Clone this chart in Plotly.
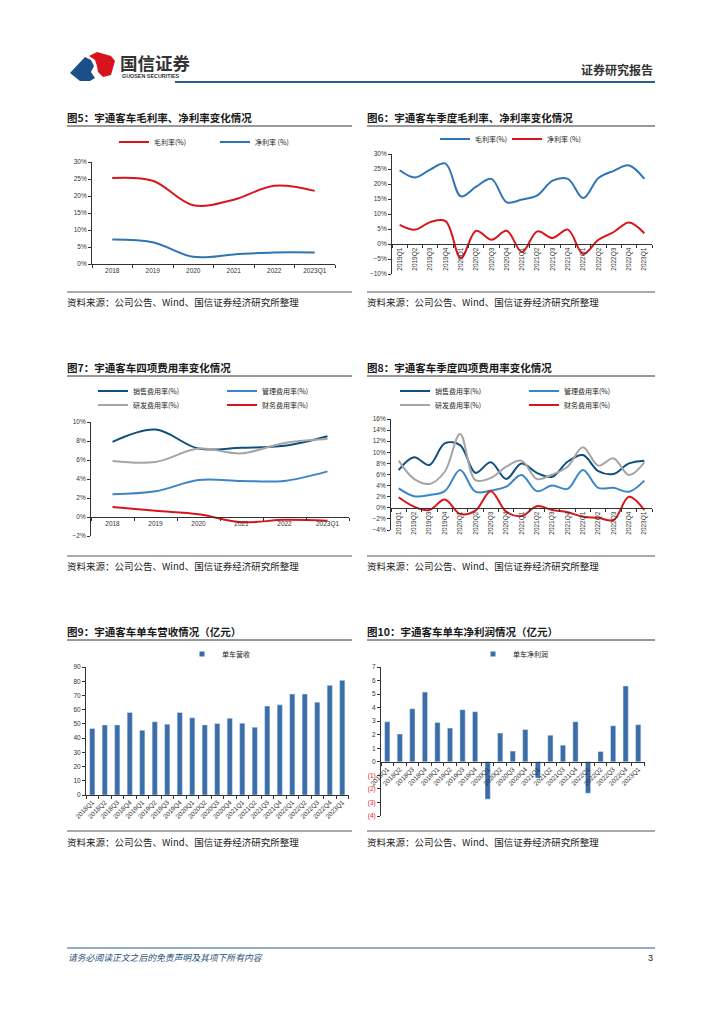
import plotly.graph_objects as go

# page is 724x1024; the browser adds an 8px body margin, so the figure is drawn 8px smaller
OFF = 8
W, H = 724 - OFF, 1024 - OFF


def fx(p):
    return (p - OFF) / W


def fy(p):
    return 1 - (p - OFF) / H


CJK = "Noto Sans CJK SC"
NUM = "Liberation Sans"

# ---------------- data ----------------
years = ["2018", "2019", "2020", "2021", "2022", "2023Q1"]
gross_margin_annual = [25.3, 24.5, 17.3, 18.9, 23.0, 21.5]
net_margin_annual = [7.2, 6.4, 2.1, 2.8, 3.4, 3.4]

quarters_17 = ["2019Q1", "2019Q2", "2019Q3", "2019Q4", "2020Q1", "2020Q2", "2020Q3", "2020Q4",
               "2021Q1", "2021Q2", "2021Q3", "2021Q4", "2022Q1", "2022Q2", "2022Q3", "2022Q4", "2023Q1"]
gross_margin_q = [24.6, 22.2, 24.8, 26.8, 15.9, 19.1, 21.7, 13.9, 14.8, 16.2, 21.1, 21.7, 15.3, 22.0, 24.4, 26.2, 21.7]
net_margin_q = [6.4, 4.8, 7.3, 7.6, -4.7, 4.4, 1.4, 4.4, -2.7, 4.2, 2.0, 4.8, -3.3, 1.4, 4.0, 7.2, 3.6]

sales_exp_annual = [7.9, 9.2, 7.2, 7.3, 7.5, 8.5]
mgmt_exp_annual = [2.4, 2.7, 3.9, 3.8, 3.8, 4.8]
rd_exp_annual = [5.9, 5.8, 7.2, 6.7, 7.8, 8.2]
fin_exp_annual = [1.05, 0.65, 0.3, -0.55, -0.3, -0.4]

sales_exp_q = [6.8, 9.1, 7.7, 11.6, 11.3, 6.3, 8.2, 5.2, 8.0, 6.3, 5.6, 8.3, 9.5, 6.6, 6.1, 8.0, 8.5]
mgmt_exp_q = [3.5, 2.1, 2.3, 3.0, 6.8, 2.9, 3.1, 3.8, 5.9, 3.0, 4.0, 3.4, 6.8, 3.6, 3.6, 2.9, 4.9]
rd_exp_q = [8.5, 5.2, 4.3, 6.5, 13.3, 5.0, 5.4, 7.4, 8.5, 5.2, 6.0, 7.4, 10.9, 7.6, 8.9, 5.9, 8.2]
fin_exp_q = [1.9, 0.2, -0.4, 1.5, -1.1, -0.5, 3.0, -0.7, -1.5, 0.3, -0.4, -0.8, -1.6, -1.8, -2.2, 2.0, -0.4]

quarters_21 = ["2018Q1", "2018Q2", "2018Q3", "2018Q4", "2019Q1", "2019Q2", "2019Q3", "2019Q4",
               "2020Q1", "2020Q2", "2020Q3", "2020Q4", "2021Q1", "2021Q2", "2021Q3", "2021Q4",
               "2022Q1", "2022Q2", "2022Q3", "2022Q4", "2023Q1"]
revenue_per_bus = [46.8, 49.3, 49.3, 58.0, 45.6, 51.5, 49.8, 58.0, 54.3, 49.3, 50.3, 54.0, 50.5, 47.7,
                   62.5, 63.4, 71.0, 71.0, 65.3, 77.1, 80.6]
profit_per_bus = [2.96, 2.05, 3.92, 5.15, 2.91, 2.49, 3.85, 3.70, -2.76, 2.12, 0.79, 2.39, -1.2, 1.97,
                  1.23, 2.96, -2.32, 0.76, 2.66, 5.6, 2.74]
profit_ticks = [7, 6, 5, 4, 3, 2, 1, 0, -1, -2, -3, -4]

# ---------------- style ----------------
RED = "#D9151B"
BLUE = "#2E75B6"
NAVY = "#0E4F7E"
MID = "#3D85C6"
GREY = "#A5A5A5"
BAR = "#3B6EA8"
AX = "#333333"

fig = go.Figure()


def line(x, y, name, color, ax, lg):
    fig.add_trace(go.Scatter(x=x, y=y, name=name, mode="lines",
                             line=dict(color=color, width=2, shape="spline", smoothing=1.0),
                             xaxis="x" + ax, yaxis="y" + ax, legend=lg))


# chart 5
line(years, gross_margin_annual, "毛利率(%)", RED, "", "legend")
line(years, net_margin_annual, "净利率 (%)", BLUE, "", "legend2")
# chart 6
line(quarters_17, gross_margin_q, "毛利率(%)", BLUE, "2", "legend3")
line(quarters_17, net_margin_q, "净利率 (%)", RED, "2", "legend4")
# chart 7
line(years, sales_exp_annual, "销售费用率(%)", NAVY, "3", "legend5")
line(years, mgmt_exp_annual, "管理费用率(%)", MID, "3", "legend6")
line(years, rd_exp_annual, "研发费用率(%)", GREY, "3", "legend7")
line(years, fin_exp_annual, "财务费用率(%)", RED, "3", "legend8")
# chart 8
line(quarters_17, sales_exp_q, "销售费用率(%)", NAVY, "4", "legend9")
line(quarters_17, mgmt_exp_q, "管理费用率(%)", MID, "4", "legend10")
line(quarters_17, rd_exp_q, "研发费用率(%)", GREY, "4", "legend11")
line(quarters_17, fin_exp_q, "财务费用率(%)", RED, "4", "legend12")
# chart 9
fig.add_trace(go.Bar(x=quarters_21, y=revenue_per_bus, name="单车营收", marker=dict(color=BAR),
                     xaxis="x5", yaxis="y5", showlegend=False))
fig.add_trace(go.Scatter(x=[None], y=[None], name="单车营收", mode="markers",
                         marker=dict(symbol="square", size=5, color=BAR),
                         xaxis="x5", yaxis="y5", legend="legend13"))
# chart 10
fig.add_trace(go.Bar(x=quarters_21, y=profit_per_bus, name="单车净利润", marker=dict(color=BAR),
                     xaxis="x6", yaxis="y6", showlegend=False))
fig.add_trace(go.Scatter(x=[None], y=[None], name="单车净利润", mode="markers",
                         marker=dict(symbol="square", size=5, color=BAR),
                         xaxis="x6", yaxis="y6", legend="legend14"))

tickfont = dict(size=6.5, family=NUM, color=AX)


def xax(x0, x1, n, anchor, pos=None, angle=0):
    d = dict(domain=[fx(x0), fx(x1)], type="category", range=[-0.5, n - 0.5],
             showgrid=False, zeroline=False, showline=True, linecolor=AX, linewidth=1,
             ticks="outside", tickson="boundaries", ticklen=3, tickcolor=AX,
             tickfont=tickfont, tickangle=angle, automargin=False)
    if pos is None:
        d["anchor"] = anchor
    else:
        d["anchor"] = "free"
        d["position"] = pos
    return d


def yax(top, bot, lo, hi, dt, anchor, suffix=""):
    return dict(domain=[fy(bot), fy(top)], range=[lo, hi], dtick=dt, tick0=lo,
                showgrid=False, zeroline=False, showline=True, linecolor=AX, linewidth=1,
                ticks="outside", ticklen=3, tickcolor=AX, tickfont=tickfont,
                ticksuffix=suffix, anchor=anchor, automargin=False)


layout = dict(
    width=W, height=H, margin=dict(l=0, r=0, t=0, b=0, pad=0, autoexpand=False),
    paper_bgcolor="white", plot_bgcolor="rgba(0,0,0,0)",
    font=dict(family=CJK), bargap=0.58,
    xaxis=xax(92, 335, 6, "y"),
    yaxis=yax(162, 264, 0, 30, 5, "x", "%"),
    xaxis2=xax(392, 652, 17, "y2", pos=fy(244), angle=-90),
    yaxis2=yax(154, 274, -10, 30, 5, "x2", "%"),
    xaxis3=xax(91, 349, 6, "y3", pos=fy(517)),
    yaxis3=yax(422, 536, -2, 10, 2, "x3", "%"),
    xaxis4=xax(391, 652, 17, "y4", pos=fy(508), angle=-90),
    yaxis4=yax(419, 530, -4, 16, 2, "x4", "%"),
    xaxis5=xax(86, 348.5, 21, "y5", angle=-45),
    yaxis5=yax(667, 795, 0, 90, 10, "x5"),
    xaxis6=xax(381, 644.5, 21, "y6", pos=fy(762), angle=-45),
    yaxis6=yax(667, 816, -4, 7, 1, "x6"),
)
layout["yaxis6"].update(tickmode="array", tickvals=profit_ticks,
                        ticktext=[str(v) if v >= 0 else '<span style="color:#E0201E">(%d)</span>' % (-v)
                                  for v in profit_ticks])


def leg(text_x, y):
    return dict(x=fx(text_x - 38), y=fy(y), xanchor="left", yanchor="middle",
                orientation="h", bgcolor="rgba(0,0,0,0)", borderwidth=0,
                font=dict(size=7, family=CJK, color="#222"), itemwidth=30)


layout["legend"] = leg(152, 142)
layout["legend2"] = leg(253, 142)
layout["legend3"] = leg(473, 139)
layout["legend4"] = leg(545, 139)
layout["legend5"] = leg(131, 391)
layout["legend6"] = leg(260, 391)
layout["legend7"] = leg(131, 405)
layout["legend8"] = leg(260, 405)
layout["legend9"] = leg(433, 391)
layout["legend10"] = leg(562, 391)
layout["legend11"] = leg(433, 405)
layout["legend12"] = leg(562, 405)
layout["legend13"] = leg(220, 654)
layout["legend14"] = leg(511, 654)

fig.update_layout(**layout)


def txt(x, y, s, size, color="#222", xanchor="left", family=CJK):
    return dict(x=fx(x), y=fy(y), xref="paper", yref="paper", text=s, showarrow=False,
                xanchor=xanchor, yanchor="middle", font=dict(size=size, color=color, family=family))


ann = []
titles = [
    (67, 117, "图5：宇通客车毛利率、净利率变化情况"),
    (367, 117, "图6：宇通客车季度毛利率、净利率变化情况"),
    (67, 367, "图7：宇通客车四项费用率变化情况"),
    (367, 367, "图8：宇通客车季度四项费用率变化情况"),
    (67, 631, "图9：宇通客车单车营收情况（亿元）"),
    (367, 631, "图10：宇通客车单车净利润情况（亿元）"),
]
for x, y, s in titles:
    ann.append(txt(x - 2, y, "<b>" + s + "</b>", 10.5, "#1a1a1a"))
src = "资料来源：公司公告、Wind、国信证券经济研究所整理"
for x, y in [(67, 302), (367, 302), (67, 566), (367, 566), (67, 842), (367, 842)]:
    ann.append(txt(x - 2, y, src, 9.5, "#1a1a1a"))

ann.append(txt(118, 62, "<b>国信证券</b>", 17.5, "#333333"))
ann.append(txt(120, 75.5, "<b>GUOSEN SECURITIES</b>", 5.4, "#333333", family=NUM))
ann.append(txt(655, 69, "<b>证券研究报告</b>", 12, "#333333", xanchor="right"))
ann.append(txt(66, 957, "<i>请务必阅读正文之后的免责声明及其项下所有内容</i>", 8.8, "#1F4E79"))
ann.append(txt(655, 958, "3", 9, "#222", xanchor="right", family=NUM))

shapes = []


def hline(x0, x1, y, color, width):
    shapes.append(dict(type="line", xref="paper", yref="paper", x0=fx(x0), x1=fx(x1),
                       y0=fy(y), y1=fy(y), line=dict(color=color, width=width)))


hline(175, 655, 82, "#2B5C8E", 2)
hline(67, 655, 948, "#2B5C8E", 1)
for y in (126, 376, 640):
    hline(67, 352, y, "#333333", 1)
    hline(367, 655, y, "#333333", 1)
for y in (292, 556, 831):
    hline(67, 352, y, "#8C8C8C", 1.6)
    hline(367, 655, y, "#8C8C8C", 1.6)


def poly(pts, color):
    p = "M " + " L ".join("%.5f,%.5f" % (fx(a), fy(b)) for a, b in pts) + " Z"
    shapes.append(dict(type="path", xref="paper", yref="paper", path=p,
                       fillcolor=color, line=dict(width=0)))


poly([(70, 73), (85, 57), (91, 60), (94, 66), (91, 72), (95, 78), (90, 81), (80, 81)], "#1B4F8A")
poly([(89, 56), (97, 52), (111, 56), (115, 61), (111, 75), (103, 77), (98, 72), (97, 66), (95, 60)], "#D7141E")

fig.update_layout(annotations=ann, shapes=shapes)

fig.write_html("out.html")
